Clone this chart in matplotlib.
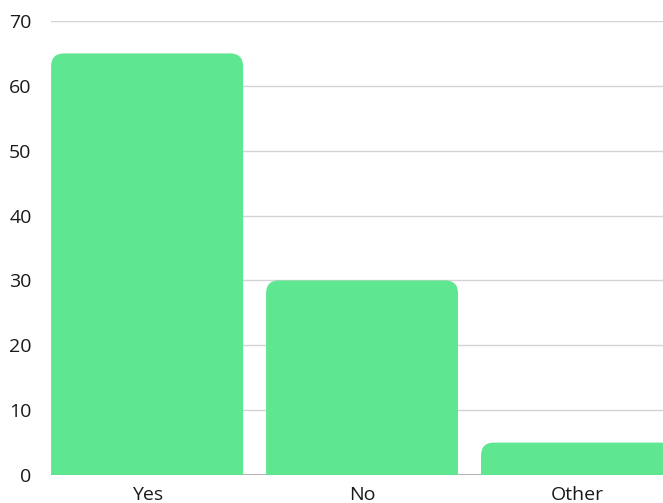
import matplotlib.pyplot as plt
from matplotlib.patches import FancyBboxPatch

# Survey answers
categories = ['Yes', 'No', 'Other']
counts = [65, 30, 5]
y_ticks = [0, 10, 20, 30, 40, 50, 60, 70]

bar_color = '#5ee690'

plt.rcParams['font.family'] = ['Open Sans', 'DejaVu Sans']

fig = plt.figure(figsize=(6.63, 5.03), dpi=100)
ax = fig.add_axes([51 / 663, 28 / 503, 612 / 663, 454 / 503])

x = list(range(len(categories)))
bars = ax.bar(x, counts, width=0.893, color=bar_color, zorder=2)
ax.set_xlim(-0.447, 2.4)
ax.set_ylim(0, 70)

# swap plain bars for ones with rounded top corners
radius_px = 13
bbox = ax.get_window_extent()
px_x = (ax.get_xlim()[1] - ax.get_xlim()[0]) / bbox.width
px_y = (ax.get_ylim()[1] - ax.get_ylim()[0]) / bbox.height
for b in bars:
    b.set_visible(False)
    x0, w, h = b.get_x(), b.get_width(), b.get_height()
    pad = radius_px * px_x
    patch = FancyBboxPatch((x0 + pad, -5), w - 2 * pad, h + 5 - pad * px_y / px_x,
                           boxstyle=f'round,pad={pad},rounding_size={pad}',
                           mutation_aspect=px_y / px_x,
                           facecolor=bar_color, edgecolor='none', zorder=2)
    ax.add_patch(patch)

ax.set_xticks(x)
ax.set_xticklabels(categories)
ax.set_yticks(y_ticks)
ax.yaxis.grid(True, color='#d3d3d3', linewidth=1, zorder=0)
ax.axhline(0, color='#9a9a9a', linewidth=1.2, zorder=1)

for s in ax.spines.values():
    s.set_visible(False)
ax.tick_params(axis='both', length=0, labelsize=14, colors='#1a1a1a')
ax.tick_params(axis='y', pad=14)
ax.tick_params(axis='x', pad=8)

fig.savefig('out.png', dpi=100)
